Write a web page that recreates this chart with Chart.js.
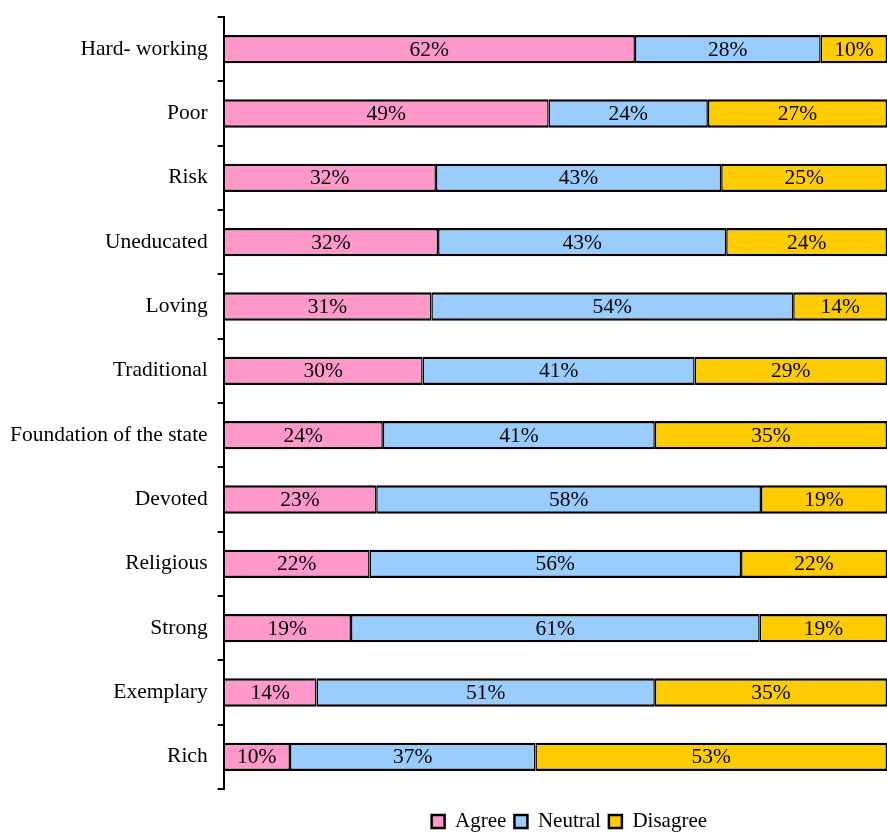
<!DOCTYPE html>
<html>
<head>
<meta charset="utf-8">
<script src="https://cdn.jsdelivr.net/npm/chart.js"></script>
<style>
    html, body { margin: 0; padding: 0; background: #fff; }
    #wrap { width: 887px; height: 834px; }
</style>
</head>
<body>
<div id="wrap"><canvas id="attitudeChart"></canvas></div>
<script>
const categories = ["Hard- working", "Poor", "Risk", "Uneducated", "Loving", "Traditional",
    "Foundation of the state", "Devoted", "Religious", "Strong", "Exemplary", "Rich"];
const agree    = [62, 49, 32, 32, 31, 30, 24, 23, 22, 19, 14, 10];
const neutral  = [28, 24, 43, 43, 54, 41, 41, 58, 56, 61, 51, 37];
const disagree = [10, 27, 25, 24, 14, 29, 35, 19, 22, 19, 35, 53];

const FONT = "'Liberation Serif', 'Times New Roman', serif";
const FONT_SIZE = 21.5;

// 100% stacked: each segment is its share of the row total
const rowTotals = categories.map((_, i) => agree[i] + neutral[i] + disagree[i]);
const share = arr => arr.map((v, i) => v / rowTotals[i] * 100);

// percentage text in the middle of every segment
const segmentLabels = {
    id: "segmentLabels",
    afterDatasetsDraw(chart) {
        const ctx = chart.ctx;
        ctx.save();
        ctx.font = FONT_SIZE + "px " + FONT;
        ctx.fillStyle = "#000";
        ctx.textAlign = "center";
        ctx.textBaseline = "middle";
        chart.data.datasets.forEach((ds, i) => {
            chart.getDatasetMeta(i).data.forEach((bar, j) => {
                const cx = (bar.x + bar.base) / 2;
                ctx.fillText(ds.raw[j] + "%", cx, bar.y + 1);
            });
        });
        ctx.restore();
    }
};

// nudge the legend row to sit under the middle of the bars
const legendShift = {
    id: "legendShift",
    afterLayout(chart) {
        chart.legend.left += 14;
        chart.legend.right += 14;
    }
};

function makeSet(label, data, color) {
    return {
        label: label,
        raw: data,
        data: share(data),
        backgroundColor: color,
        borderColor: "#000",
        borderWidth: { top: 2.5, bottom: 2.5, left: 1.5, right: 1.5 },
        borderSkipped: false,
        categoryPercentage: 1,
        barPercentage: 0.44
    };
}

new Chart(document.getElementById("attitudeChart"), {
    type: "bar",
    data: {
        labels: categories,
        datasets: [
            makeSet("Agree", agree, "#FF99CC"),
            makeSet("Neutral", neutral, "#99CCFF"),
            makeSet("Disagree", disagree, "#FFCC00")
        ]
    },
    options: {
        indexAxis: "y",
        responsive: true,
        maintainAspectRatio: false,
        animation: false,
        layout: { padding: { top: 17, left: 0, right: -2, bottom: -8 } },
        scales: {
            x: { stacked: true, min: 0, max: 100, display: false },
            y: {
                stacked: true,
                afterFit(scale) {
                    scale.paddingTop = 0;
                    scale.paddingBottom = 0;
                },
                grid: {
                    offset: true,
                    drawOnChartArea: false,
                    tickLength: 6,
                    color: "#000",
                    lineWidth: 2
                },
                border: { display: true, color: "#000", width: 2 },
                ticks: {
                    color: "#000",
                    padding: 10,
                    font: { family: FONT, size: FONT_SIZE }
                }
            }
        },
        plugins: {
            tooltip: { enabled: false },
            legend: {
                position: "bottom",
                fullSize: false,
                title: { display: true, text: " ", font: { size: 1, lineHeight: 1 }, padding: { top: 13, bottom: 0 } },
                labels: {
                    boxWidth: 13,
                    boxHeight: 13,
                    padding: 8,
                    color: "#000",
                    font: { family: FONT, size: 21 },
                    generateLabels(chart) {
                        return Chart.defaults.plugins.legend.labels.generateLabels(chart).map(item => {
                            item.lineWidth = 2.5;
                            item.strokeStyle = "#000";
                            return item;
                        });
                    }
                }
            }
        }
    },
    plugins: [segmentLabels, legendShift]
});
</script>
</body>
</html>
